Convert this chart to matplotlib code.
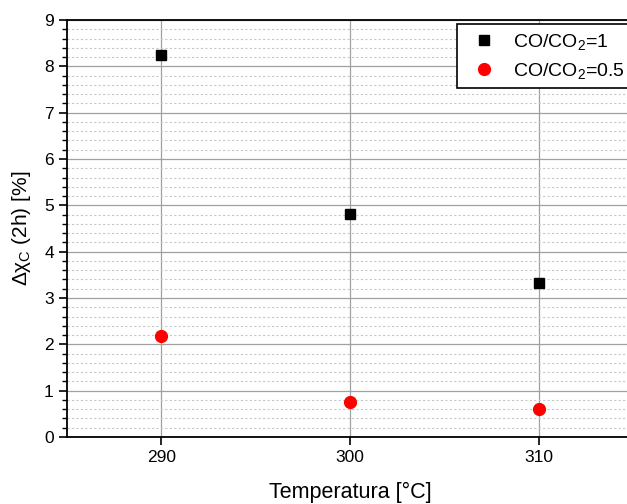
import matplotlib
matplotlib.use("Agg")
import matplotlib.pyplot as plt
from matplotlib.ticker import MultipleLocator

# data
temperatura = [290, 300, 310]
dchi_co_1 = [8.24, 4.81, 3.32]
dchi_co_05 = [2.18, 0.76, 0.60]

plt.rcParams['font.family'] = ['Liberation Sans', 'DejaVu Sans']
plt.rcParams['mathtext.fontset'] = 'custom'
plt.rcParams['mathtext.rm'] = 'Liberation Sans'
plt.rcParams['mathtext.it'] = 'Liberation Sans'

fig = plt.figure(figsize=(6.27, 5.04), dpi=100)
ax = fig.add_axes([67/627, 1-437/504, 566/627, 417/504])

ax.plot(temperatura, dchi_co_1, 's', color='black', markersize=7, label=r'CO/CO$_2$=1', zorder=3)
ax.plot(temperatura, dchi_co_05, 'o', color='red', markersize=8.5, label=r'CO/CO$_2$=0.5', zorder=3)

ax.set_xlim(285, 315)
ax.set_ylim(0, 9)
ax.xaxis.set_major_locator(MultipleLocator(10))
ax.yaxis.set_major_locator(MultipleLocator(1))
ax.yaxis.set_minor_locator(MultipleLocator(0.2))

ax.grid(True, which='major', color='#a0a0a0', linewidth=0.9, linestyle='-')
ax.yaxis.grid(True, which='minor', color='#c8c8c8', linewidth=0.8, linestyle=(0, (2, 2)))
ax.set_axisbelow(True)

ax.tick_params(which='major', direction='out', length=6, width=1.2, labelsize=12.5)
ax.tick_params(which='minor', direction='out', length=3.5, width=1.0)
ax.tick_params(axis='x', which='minor', bottom=False)
ax.tick_params(top=False, right=False)
for s in ax.spines.values():
    s.set_linewidth(1.3)

ax.set_xlabel('Temperatura [°C]', fontsize=15.5, labelpad=12)
ax.set_ylabel(r'$\Delta\chi_{\rm C}$ (2h) [%]', fontsize=15, labelpad=8)

leg = ax.legend(loc='upper right', fontsize=14, fancybox=False, framealpha=1,
                edgecolor='black', handletextpad=0.5, handlelength=2.0,
                borderpad=0.4, labelspacing=0.45, borderaxespad=0,
                bbox_to_anchor=(1.0, 0.99))
leg.get_frame().set_linewidth(1.2)

fig.savefig("out.png", dpi=100)
